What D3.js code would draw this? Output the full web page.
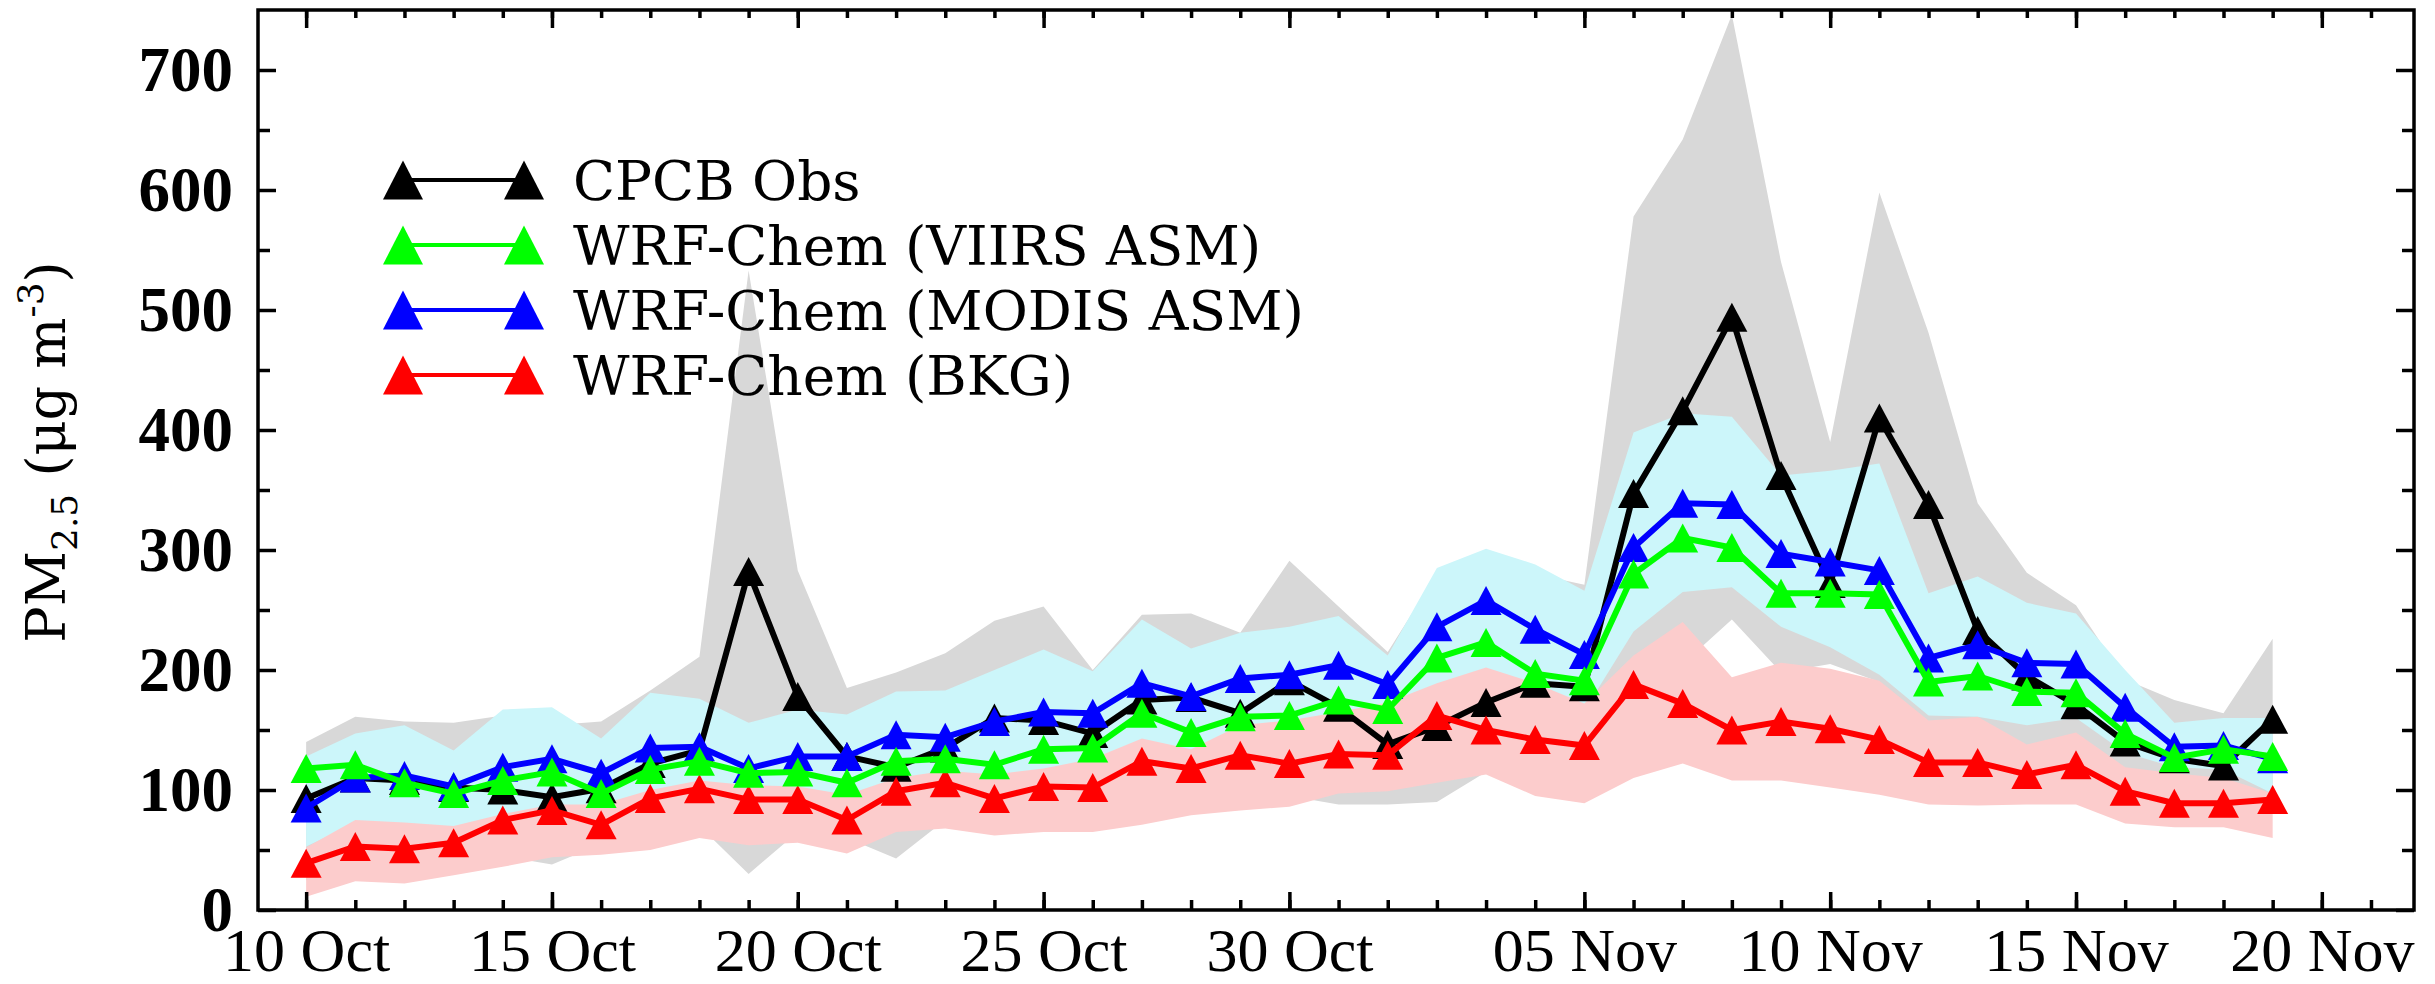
<!DOCTYPE html>
<html><head><meta charset="utf-8">
<script src="https://cdn.jsdelivr.net/npm/d3@7"></script>
<style>body{margin:0;background:#fff}svg{display:block}</style>
</head><body>
<svg id="chart" width="2435" height="984"></svg>
<script>
// ---------------- data ----------------
const dates = ["2017-10-10","2017-10-11","2017-10-12","2017-10-13","2017-10-14","2017-10-15","2017-10-16","2017-10-17","2017-10-18","2017-10-19",
"2017-10-20","2017-10-21","2017-10-22","2017-10-23","2017-10-24","2017-10-25","2017-10-26","2017-10-27","2017-10-28","2017-10-29",
"2017-10-30","2017-10-31","2017-11-01","2017-11-02","2017-11-03","2017-11-04","2017-11-05","2017-11-06","2017-11-07","2017-11-08",
"2017-11-09","2017-11-10","2017-11-11","2017-11-12","2017-11-13","2017-11-14","2017-11-15","2017-11-16","2017-11-17","2017-11-18","2017-11-19"];

const obs   = [93,110,108,102,100,94,101,122,133,282,178,128,119,135,160,158,147,175,177,164,191,169,138,153,173,189,186,347,416,494,362,272,410,338,233,195,171,140,126,120,159];
const viirs = [118,121,106,97,108,115,97,117,124,114,115,106,124,126,121,134,135,164,148,161,162,175,167,210,223,197,191,280,310,302,264,264,263,190,195,182,181,147,127,134,128];
const modis = [85,110,112,103,119,126,114,135,136,118,128,128,146,144,157,165,164,189,178,193,196,204,188,236,258,234,213,302,339,338,297,290,283,210,221,206,205,169,136,137,126];
const bkg   = [39,53,51,56,75,83,71,93,101,92,92,75,99,106,93,103,102,124,118,129,122,130,129,162,150,142,137,188,172,150,157,151,142,123,123,113,121,99,89,89,92];

const obsHi = [140,161,157,156,162,154,157,183,211,533,283,185,198,214,241,253,200,246,247,231,291,253,215,280,295,280,271,578,642,746,540,390,598,481,339,281,254,192,175,164,226];
const obsLo = [25,35,35,38,45,38,55,60,70,30,65,60,43,75,80,80,80,85,90,95,95,88,88,90,115,110,100,150,205,242,198,205,190,150,120,110,110,100,95,95,90];
const asmHi = [128,147,154,133,167,169,143,181,176,156,167,163,182,183,200,217,199,242,218,231,236,245,212,285,301,288,266,398,414,411,362,366,372,264,278,256,247,200,156,160,160];
const asmLo = [53,72,70,67,76,84,85,96,104,100,100,92,106,112,109,114,122,138,130,150,154,160,168,184,196,184,166,232,265,269,236,219,196,162,161,154,160,131,119,117,97];
const bkgHi = [52,75,73,70,80,88,88,100,108,104,103,96,110,116,113,118,126,143,134,154,158,165,173,189,202,189,172,212,240,194,206,201,191,158,161,138,148,119,114,110,97];
const bkgLo = [11,24,22,29,36,44,46,50,60,54,56,47,65,68,62,65,65,71,79,83,86,97,99,106,113,95,89,110,122,108,108,102,96,88,87,88,88,72,69,69,60];

const xTickDates = ["2017-10-10","2017-10-15","2017-10-20","2017-10-25","2017-10-30","2017-11-05","2017-11-10","2017-11-15","2017-11-20"];
const yTicks = [0,100,200,300,400,500,600,700];
const yMinorTicks = [50,150,250,350,450,550,650];
const legendLabels = ["CPCB Obs","WRF-Chem (VIIRS ASM)","WRF-Chem (MODIS ASM)","WRF-Chem (BKG)"];

// ---------------- layout ----------------
const L = 258, R = 2414, T = 10, B = 910;
const parse = d3.utcParse("%Y-%m-%d");
const xs = dates.map(parse);
const x = d3.scaleUtc()
  .domain([new Date(Date.UTC(2017,9,9,0,30)), new Date(Date.UTC(2017,10,21,21,0))])
  .range([L, R]);
const y = d3.scaleLinear().domain([0, 750]).range([B, T]);

const svg = d3.select("#chart");
svg.append("rect").attr("width",2435).attr("height",984).attr("fill","#fff");

// ---------------- bands ----------------
function band(hi, lo, color){
  const a = d3.area().x((d,i)=>x(xs[i])).y0((d,i)=>y(lo[i])).y1((d,i)=>y(hi[i]));
  svg.append("path").datum(hi).attr("d", a).attr("fill", color).attr("stroke","none");
}
band(obsHi, obsLo, "#d8d8d8");
band(asmHi, asmLo, "#ccf6fa");
band(bkgHi, bkgLo, "#fccccc");

// ---------------- series ----------------
const tri = (w,h) => `M0,${-h/2}L${w/2},${h/2}L${-w/2},${h/2}Z`;
function series(vals, color){
  const ln = d3.line().x((d,i)=>x(xs[i])).y(d=>y(d));
  svg.append("path").datum(vals).attr("d", ln).attr("fill","none")
     .attr("stroke", color).attr("stroke-width", 6).attr("stroke-linejoin","miter");
  svg.append("g").selectAll("path").data(vals).join("path")
     .attr("transform",(d,i)=>`translate(${x(xs[i])},${y(d)})`)
     .attr("d", tri(31,29)).attr("fill", color);
}
series(obs, "#000000");
series(bkg, "#ff0000");
series(modis, "#0000ff");
series(viirs, "#00ff00");

// ---------------- axes ----------------
const fmt = d3.utcFormat("%d %b");
const majorX = xTickDates.map(parse);
const minorX = d3.utcDay.range(new Date(Date.UTC(2017,9,10)), new Date(Date.UTC(2017,10,22)));

function styleAxis(g){ g.select(".domain").remove(); g.selectAll("line").attr("stroke","#000").attr("stroke-width",3.5); }

// bottom
svg.append("g").attr("transform",`translate(0,${B})`)
  .call(d3.axisBottom(x).tickValues(minorX).tickSize(-10).tickFormat(""))
  .call(styleAxis);
const bx = svg.append("g").attr("transform",`translate(0,${B})`)
  .call(d3.axisBottom(x).tickValues(majorX).tickSize(-18).tickFormat(fmt))
  .call(styleAxis);
bx.selectAll("text").attr("y", 61).attr("dy", 0)
  .style("font-family","'Liberation Serif', serif").style("font-size","62px").attr("fill","#000");
// top
svg.append("g").attr("transform",`translate(0,${T})`)
  .call(d3.axisTop(x).tickValues(minorX).tickSize(-8).tickFormat(""))
  .call(styleAxis);
svg.append("g").attr("transform",`translate(0,${T})`)
  .call(d3.axisTop(x).tickValues(majorX).tickSize(-18).tickFormat(""))
  .call(styleAxis);
// left
svg.append("g").attr("transform",`translate(${L},0)`)
  .call(d3.axisLeft(y).tickValues(yMinorTicks).tickSize(-12).tickFormat(""))
  .call(styleAxis);
const ly = svg.append("g").attr("transform",`translate(${L},0)`)
  .call(d3.axisLeft(y).tickValues(yTicks).tickSize(-18).tickFormat(d3.format("d")))
  .call(styleAxis);
ly.selectAll("text").attr("x", -25).attr("dy", "0.33em")
  .style("font-family","'Liberation Serif', serif").style("font-weight","bold").style("font-size","63px").attr("fill","#000");
// right
svg.append("g").attr("transform",`translate(${R},0)`)
  .call(d3.axisRight(y).tickValues(yMinorTicks).tickSize(-12).tickFormat(""))
  .call(styleAxis);
svg.append("g").attr("transform",`translate(${R},0)`)
  .call(d3.axisRight(y).tickValues(yTicks).tickSize(-18).tickFormat(""))
  .call(styleAxis);

// frame
svg.append("rect").attr("x",L).attr("y",T).attr("width",R-L).attr("height",B-T)
  .attr("fill","none").attr("stroke","#000").attr("stroke-width",3.5);

// ---------------- y title ----------------
const yt = svg.append("text").attr("transform","translate(65,452) rotate(-90)")
  .attr("text-anchor","middle")
  .style("font-family","'DejaVu Serif', serif").style("font-size","54px").attr("fill","#000");
yt.append("tspan").text("PM");
yt.append("tspan").attr("dy",12).style("font-size","36px").text("2.5");
yt.append("tspan").attr("dy",-12).text(" (μg m");
yt.append("tspan").attr("dy",-22).style("font-size","36px").text("-3");
yt.append("tspan").attr("dy",22).text(")");

// ---------------- legend ----------------
const legColors = ["#000000","#00ff00","#0000ff","#ff0000"];
legendLabels.forEach((lab,i)=>{
  const cy = 180 + 65*i;
  const g = svg.append("g");
  g.append("line").attr("x1",403).attr("x2",524).attr("y1",cy).attr("y2",cy)
    .attr("stroke",legColors[i]).attr("stroke-width",4);
  [403,524].forEach(cx=> g.append("path").attr("transform",`translate(${cx},${cy})`)
    .attr("d", tri(40,39)).attr("fill",legColors[i]));
  g.append("text").attr("x",573).attr("y",cy+20).text(lab)
    .style("font-family","'DejaVu Serif', serif").style("font-size","55px").attr("fill","#000");
});
</script>
</body></html>
